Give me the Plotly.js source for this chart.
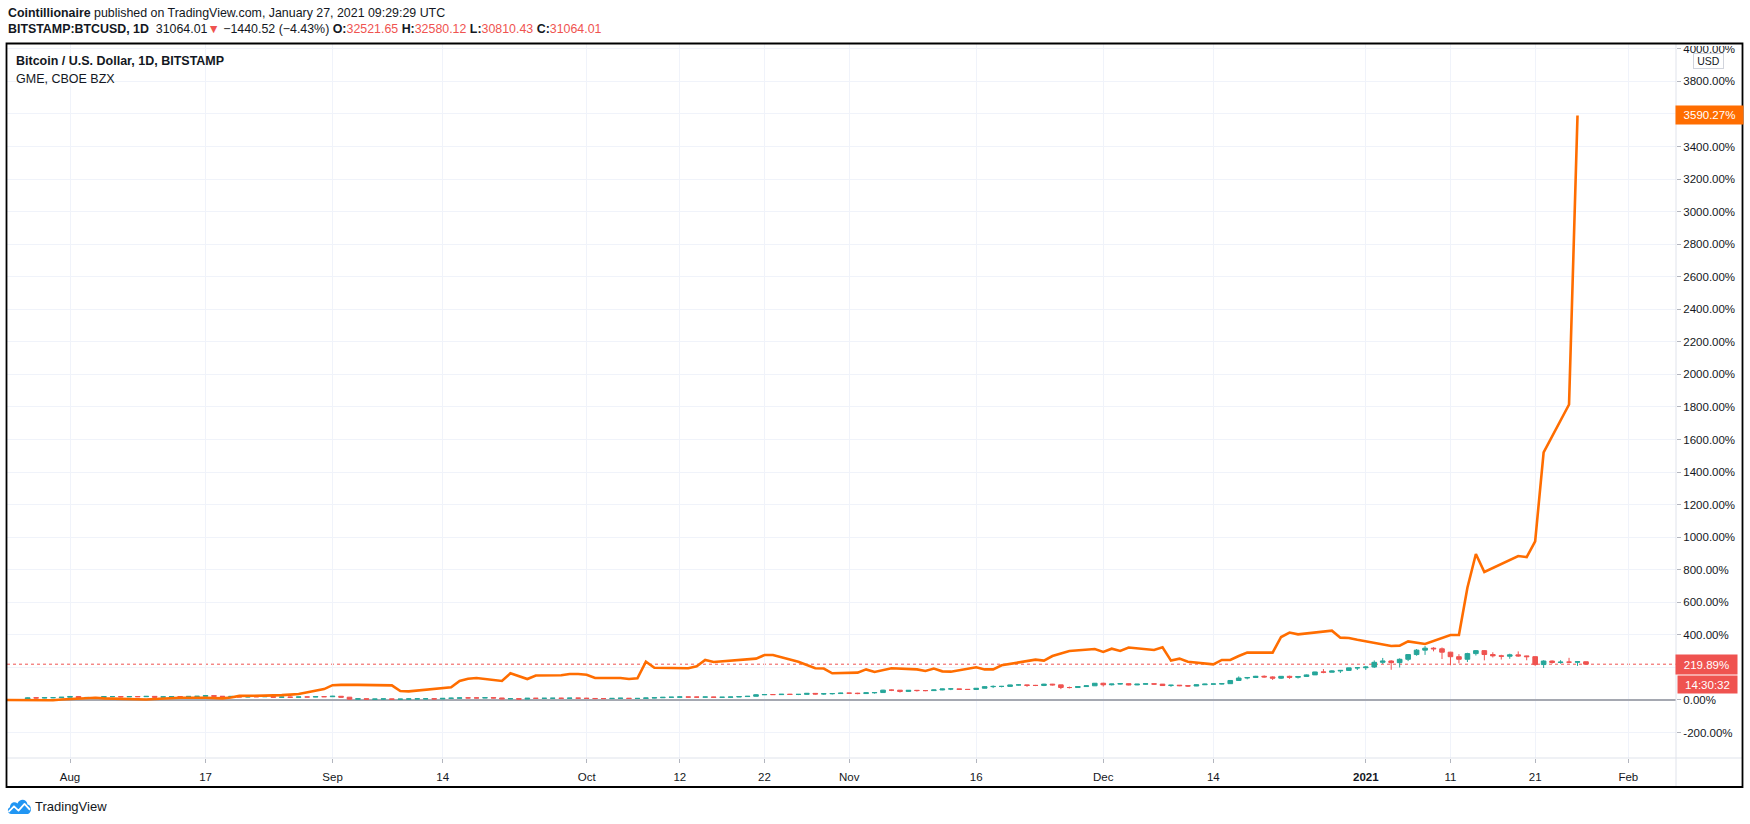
<!DOCTYPE html>
<html>
<head>
<meta charset="utf-8">
<script src="https://cdn.plot.ly/plotly-3.0.1.min.js"></script>
<style>
  html, body { margin: 0; padding: 0; background: #ffffff; }
  #chart { width: 1750px; height: 824px; }
</style>
</head>
<body>
<div id="chart"></div>
<script>
// ---------------- DATA ----------------
// BITSTAMP:BTCUSD daily candles, expressed in % change from the first bar (percentage scale)
const btcDates = [
'2020-07-25','2020-07-26','2020-07-27','2020-07-28','2020-07-29','2020-07-30','2020-07-31',
'2020-08-01','2020-08-02','2020-08-03','2020-08-04','2020-08-05','2020-08-06','2020-08-07','2020-08-08','2020-08-09','2020-08-10',
'2020-08-11','2020-08-12','2020-08-13','2020-08-14','2020-08-15','2020-08-16','2020-08-17','2020-08-18','2020-08-19','2020-08-20',
'2020-08-21','2020-08-22','2020-08-23','2020-08-24','2020-08-25','2020-08-26','2020-08-27','2020-08-28','2020-08-29','2020-08-30','2020-08-31',
'2020-09-01','2020-09-02','2020-09-03','2020-09-04','2020-09-05','2020-09-06','2020-09-07','2020-09-08','2020-09-09','2020-09-10',
'2020-09-11','2020-09-12','2020-09-13','2020-09-14','2020-09-15','2020-09-16','2020-09-17','2020-09-18','2020-09-19','2020-09-20',
'2020-09-21','2020-09-22','2020-09-23','2020-09-24','2020-09-25','2020-09-26','2020-09-27','2020-09-28','2020-09-29','2020-09-30',
'2020-10-01','2020-10-02','2020-10-03','2020-10-04','2020-10-05','2020-10-06','2020-10-07','2020-10-08','2020-10-09','2020-10-10',
'2020-10-11','2020-10-12','2020-10-13','2020-10-14','2020-10-15','2020-10-16','2020-10-17','2020-10-18','2020-10-19','2020-10-20',
'2020-10-21','2020-10-22','2020-10-23','2020-10-24','2020-10-25','2020-10-26','2020-10-27','2020-10-28','2020-10-29','2020-10-30','2020-10-31',
'2020-11-01','2020-11-02','2020-11-03','2020-11-04','2020-11-05','2020-11-06','2020-11-07','2020-11-08','2020-11-09','2020-11-10',
'2020-11-11','2020-11-12','2020-11-13','2020-11-14','2020-11-15','2020-11-16','2020-11-17','2020-11-18','2020-11-19','2020-11-20',
'2020-11-21','2020-11-22','2020-11-23','2020-11-24','2020-11-25','2020-11-26','2020-11-27','2020-11-28','2020-11-29','2020-11-30',
'2020-12-01','2020-12-02','2020-12-03','2020-12-04','2020-12-05','2020-12-06','2020-12-07','2020-12-08','2020-12-09','2020-12-10',
'2020-12-11','2020-12-12','2020-12-13','2020-12-14','2020-12-15','2020-12-16','2020-12-17','2020-12-18','2020-12-19','2020-12-20',
'2020-12-21','2020-12-22','2020-12-23','2020-12-24','2020-12-25','2020-12-26','2020-12-27','2020-12-28','2020-12-29','2020-12-30','2020-12-31',
'2021-01-01','2021-01-02','2021-01-03','2021-01-04','2021-01-05','2021-01-06','2021-01-07','2021-01-08','2021-01-09','2021-01-10',
'2021-01-11','2021-01-12','2021-01-13','2021-01-14','2021-01-15','2021-01-16','2021-01-17','2021-01-18','2021-01-19','2021-01-20',
'2021-01-21','2021-01-22','2021-01-23','2021-01-24','2021-01-25','2021-01-26','2021-01-27'
];
const btcOpen = [
-1.8,0.0,2.3,13.6,12.3,14.3,14.4,
16.9,21.5,14.0,15.6,15.2,20.9,21.1,19.5,21.1,20.3,22.3,17.4,19.2,21.3,21.2,22.1,22.6,26.7,23.2,21.1,22.1,18.6,20.3,20.0,21.2,16.9,18.1,16.7,18.7,18.2,20.6,
20.1,22.9,17.3,4.7,7.8,4.6,5.6,6.8,4.3,5.3,6.6,7.0,7.5,6.4,10.0,11.1,12.9,12.7,12.6,14.1,12.4,7.3,8.4,5.4,10.6,10.1,10.5,10.9,10.2,11.6,
11.0,9.4,8.8,8.6,9.9,11.1,9.2,9.9,12.4,13.9,16.4,17.2,18.8,17.7,17.7,18.4,16.6,17.0,18.3,21.0,22.7,32.0,33.6,33.1,35.1,34.2,34.6,40.6,36.8,38.5,39.6,
42.1,41.7,39.5,44.4,45.7,60.5,60.4,52.8,59.4,57.9,57.7,61.7,67.7,68.2,65.5,64.4,72.2,81.9,83.3,83.5,92.4,92.7,89.7,89.2,97.3,92.9,76.6,76.5,82.5,87.2,
102.9,93.4,98.0,100.3,92.6,97.2,99.5,97.5,88.7,91.0,87.9,85.8,93.6,97.4,98.4,100.2,119.9,134.8,138.2,145.7,141.8,134.0,145.4,139.3,144.4,154.2,172.3,170.6,178.4,181.7,197.4,
198.1,202.5,231.5,239.6,229.4,250.0,279.1,306.3,318.4,314.4,293.7,266.0,250.2,285.0,303.2,279.3,271.3,268.9,277.2,270.8,266.1,217.7,239.3,230.3,232.5,232.3,234.9
];
const btcHigh = [
0.9,4.0,16.0,15.5,16.7,15.7,17.3,
24.6,24.6,17.1,16.7,22.0,22.6,22.0,21.5,21.3,24.6,23.6,20.0,22.6,24.5,23.2,23.6,28.5,27.9,24.0,22.9,22.4,20.9,21.0,22.4,21.7,19.7,19.3,19.0,19.6,20.9,21.5,
25.5,23.2,17.5,8.5,8.3,6.2,7.1,7.7,6.5,9.0,7.5,8.5,8.1,11.0,13.8,14.4,14.5,13.9,15.7,14.3,12.9,9.1,8.6,11.1,11.7,11.1,11.0,13.2,11.8,11.9,
13.3,9.7,9.7,10.0,11.3,11.2,10.5,12.9,14.9,18.3,18.2,20.3,19.5,18.9,19.1,18.9,17.5,18.8,22.2,23.7,36.1,35.6,34.4,35.6,37.3,36.0,42.1,42.4,41.6,40.1,44.2,
43.7,44.2,44.6,47.8,62.6,63.7,60.5,60.2,61.6,59.0,63.7,69.4,70.6,68.6,66.6,73.4,84.0,89.6,86.4,93.2,95.7,93.5,92.6,99.4,98.8,93.1,82.4,85.8,88.4,104.3,
106.1,99.1,101.3,101.2,98.0,100.3,100.0,98.0,92.9,91.9,88.3,94.8,99.6,99.6,101.8,121.6,145.0,139.7,148.1,151.0,145.3,147.2,149.4,145.3,156.6,173.3,190.0,182.4,183.9,198.3,200.4,
206.9,242.9,258.3,244.5,256.0,281.5,313.0,331.5,324.4,322.6,296.0,281.7,290.0,306.7,306.4,293.2,277.9,284.3,298.6,272.2,267.9,244.1,242.9,244.6,259.2,237.5,235.5
];
const btcLow = [
-2.0,-1.0,1.8,9.7,10.9,10.9,12.8,
15.6,8.1,12.1,12.9,13.7,18.1,15.6,18.3,17.9,18.9,14.5,14.7,16.9,20.1,20.2,19.8,21.9,21.8,17.4,19.6,18.1,17.2,18.9,19.1,14.8,16.4,14.4,16.5,17.3,17.8,18.7,
19.7,15.3,3.6,2.4,1.5,2.3,1.5,1.0,3.1,4.1,4.8,5.8,3.6,5.2,9.3,9.7,10.9,10.8,12.1,10.8,4.7,5.8,4.0,5.0,8.1,8.9,8.1,9.4,8.8,9.5,
7.0,4.3,8.1,8.1,9.3,7.5,8.4,8.6,11.2,13.4,15.4,15.0,16.0,15.8,15.8,14.8,15.9,16.6,17.9,20.0,22.1,30.4,30.8,32.0,32.5,29.8,33.8,33.4,32.5,33.8,38.4,
40.0,35.5,37.1,38.9,45.4,54.7,45.9,51.6,51.6,54.0,56.9,59.9,60.6,61.7,61.3,63.7,71.2,73.1,77.5,82.5,89.5,80.8,85.4,85.3,89.2,66.8,70.9,75.5,79.9,86.6,
82.8,89.4,95.7,90.4,91.1,95.4,94.4,86.6,80.7,84.9,80.6,85.2,91.9,94.6,96.2,98.9,119.0,126.7,135.0,136.8,123.2,129.1,129.9,131.8,141.4,153.6,164.3,170.6,165.7,179.9,184.1,
184.5,196.6,221.3,185.6,199.5,238.8,271.7,277.0,298.8,251.7,213.3,225.3,233.1,273.0,243.4,261.4,248.6,253.1,266.0,243.9,209.7,196.6,223.2,223.0,229.0,209.6,217.3
];
const btcClose = [
0.0,2.3,13.6,12.3,14.3,14.4,16.9,
21.5,14.0,15.6,15.2,20.9,21.1,19.5,21.1,20.3,22.3,17.4,19.2,21.3,21.2,22.1,22.6,26.7,23.2,21.1,22.1,18.6,20.3,20.0,21.2,16.9,18.1,16.7,18.7,18.2,20.6,20.1,
22.9,17.3,4.7,7.8,4.6,5.6,6.8,4.3,5.3,6.6,7.0,7.5,6.4,10.0,11.1,12.9,12.7,12.6,14.1,12.4,7.3,8.4,5.4,10.6,10.1,10.5,10.9,10.2,11.6,11.0,
9.4,8.8,8.6,9.9,11.1,9.2,9.9,12.4,13.9,16.4,17.2,18.8,17.7,17.7,18.4,16.6,17.0,18.3,21.0,22.7,32.0,33.6,33.1,35.1,34.2,34.6,40.6,36.8,38.5,39.6,42.1,
41.7,39.5,44.4,45.7,60.5,60.4,52.8,59.4,57.9,57.7,61.7,67.7,68.2,65.5,64.4,72.2,81.9,83.3,83.5,92.4,92.7,89.7,89.2,97.3,92.9,76.6,76.5,82.5,87.2,102.9,
93.4,98.0,100.3,92.6,97.2,99.5,97.5,88.7,91.0,87.9,85.8,93.6,97.4,98.4,100.2,119.9,134.8,138.2,145.7,141.8,134.0,145.4,139.3,144.4,154.2,172.3,170.6,178.4,181.7,197.4,198.1,
202.5,231.5,239.6,229.4,250.0,279.1,306.3,318.4,314.4,293.7,266.0,250.2,285.0,303.2,279.3,271.3,268.9,277.2,270.8,266.1,217.7,239.3,230.3,232.5,232.3,234.7,219.89
];

// GME, CBOE BZX — % change from the comparison start, trading days only
const gmeDates = [
'2020-07-24','2020-07-27','2020-07-28','2020-07-29','2020-07-30','2020-07-31',
'2020-08-03','2020-08-04','2020-08-05','2020-08-06','2020-08-07','2020-08-10','2020-08-11','2020-08-12','2020-08-13','2020-08-14',
'2020-08-17','2020-08-18','2020-08-19','2020-08-20','2020-08-21','2020-08-24','2020-08-25','2020-08-26','2020-08-27','2020-08-28','2020-08-31',
'2020-09-01','2020-09-02','2020-09-03','2020-09-04','2020-09-08','2020-09-09','2020-09-10','2020-09-11','2020-09-14','2020-09-15',
'2020-09-16','2020-09-17','2020-09-18','2020-09-21','2020-09-22','2020-09-23','2020-09-24','2020-09-25','2020-09-28','2020-09-29','2020-09-30',
'2020-10-01','2020-10-02','2020-10-05','2020-10-06','2020-10-07','2020-10-08','2020-10-09','2020-10-12','2020-10-13','2020-10-14','2020-10-15',
'2020-10-16','2020-10-19','2020-10-20','2020-10-21','2020-10-22','2020-10-23','2020-10-26','2020-10-27','2020-10-28','2020-10-29','2020-10-30',
'2020-11-02','2020-11-03','2020-11-04','2020-11-05','2020-11-06','2020-11-09','2020-11-10','2020-11-11','2020-11-12','2020-11-13',
'2020-11-16','2020-11-17','2020-11-18','2020-11-19','2020-11-20','2020-11-23','2020-11-24','2020-11-25','2020-11-27','2020-11-30',
'2020-12-01','2020-12-02','2020-12-03','2020-12-04','2020-12-07','2020-12-08','2020-12-09','2020-12-10','2020-12-11','2020-12-14',
'2020-12-15','2020-12-16','2020-12-17','2020-12-18','2020-12-21','2020-12-22','2020-12-23','2020-12-24','2020-12-28','2020-12-29','2020-12-30','2020-12-31',
'2021-01-04','2021-01-05','2021-01-06','2021-01-07','2021-01-08','2021-01-11','2021-01-12','2021-01-13','2021-01-14','2021-01-15',
'2021-01-19','2021-01-20','2021-01-21','2021-01-22','2021-01-25','2021-01-26'
];
const gmePct = [
0,1,0,0,-2,3,
8,14,10,8,5,3,6,9,12,14,
14,13,10,15,25,27,27,30,33,37,67,
91,93,95,93,90,55,53,58,72,78,
117,130,135,117,164,145,129,150,152,160,160,
155,135,135,129,133,235,198,197,195,207,246,
233,248,250,254,276,276,235,215,195,193,164,
168,188,172,185,195,188,178,193,176,174,
201,188,188,213,222,248,242,270,301,313,
295,315,301,322,307,324,242,254,235,219,
246,246,270,291,291,387,414,403,426,383,381,370,
332,334,360,351,344,399,399,690,897,786,
884,878,975,1521,1815,3590.27
];

// Axis ticks
const xTickDates  = ['2020-08-01','2020-08-17','2020-09-01','2020-09-14','2020-10-01','2020-10-12','2020-10-22','2020-11-01','2020-11-16','2020-12-01','2020-12-14','2021-01-01','2021-01-11','2021-01-21','2021-02-01'];
const xTickLabels = ['Aug','17','Sep','14','Oct','12','22','Nov','16','Dec','14','<b>2021</b>','11','21','Feb'];
const yTickVals   = [-200,0,200,400,600,800,1000,1200,1400,1600,1800,2000,2200,2400,2600,2800,3000,3200,3400,3600,3800,4000];
const yTickLabels = ['-200.00%','0.00%','200.00%','400.00%','600.00%','800.00%','1000.00%','1200.00%','1400.00%','1600.00%','1800.00%','2000.00%','2200.00%','2400.00%','2600.00%','2800.00%','3000.00%','3200.00%','3400.00%','3600.00%','3800.00%','4000.00%'];

// Header texts
const authorLine  = 'Cointillionaire';
const publishLine = 'published on TradingView.com, January 27, 2021 09:29:29 UTC';
const symbolLine  = 'BITSTAMP:BTCUSD, 1D';
const lastPrice   = '31064.01';
const changeText  = '\u22121440.52 (\u22124.43%)';
const ohlcLabels  = ['O:','H:','L:','C:'];
const ohlcValues  = ['32521.65','32580.12','30810.43','31064.01'];
const seriesTitle = 'Bitcoin / U.S. Dollar, 1D, BITSTAMP';
const compareTitle = 'GME, CBOE BZX';
const countdown   = '14:30:32';

// ---------------- LAYOUT HELPERS ----------------
const W = 1750, H = 824, ML = 7, MR = 74, MT = 44, MB = 66;
const PW = W - ML - MR, PH = H - MT - MB;
const px = x => (x - ML) / PW;
const py = y => (H - MB - y) / PH;

const FONT = '"Liberation Sans", Arial, sans-serif';
const TXT = '#131722';
const UP = '#26a69a', DOWN = '#ef5350', ORANGE = '#ff6d00';

const lastBtc = btcClose[btcClose.length - 1];
const lastGme = gmePct[gmePct.length - 1];

const traces = [
  {
    type: 'candlestick',
    x: btcDates, open: btcOpen, high: btcHigh, low: btcLow, close: btcClose,
    increasing: { line: { color: UP, width: 1 }, fillcolor: UP },
    decreasing: { line: { color: DOWN, width: 1 }, fillcolor: DOWN },
    whiskerwidth: 0,
    hoverinfo: 'skip'
  },
  {
    type: 'scatter', mode: 'lines',
    x: gmeDates, y: gmePct,
    line: { color: ORANGE, width: 2.6 },
    hoverinfo: 'skip'
  }
];

let ohlcHtml = '';
for (let i = 0; i < ohlcLabels.length; i++) {
  ohlcHtml += ' <b>' + ohlcLabels[i] + '</b><span style="color:' + DOWN + '">' + ohlcValues[i] + '</span>';
}

const annotations = [
  { text: '<b>' + authorLine + '</b> ' + publishLine, x: px(6), y: py(13.5), size: 12.4 },
  { text: '<b>' + symbolLine + '</b>  ' + lastPrice + '<span style="color:' + DOWN + '">\u25BC</span> ' + changeText + ohlcHtml, x: px(6), y: py(28.5), size: 12.4 },
  { text: '<b>' + seriesTitle + '</b>', x: px(14), y: py(61), size: 12.5 },
  { text: compareTitle, x: px(14), y: py(78.5), size: 12.5 },
  { text: 'TradingView', x: px(33), y: py(806), size: 13 }
].map(a => ({
  xref: 'paper', yref: 'paper', x: a.x, y: a.y, text: a.text,
  xanchor: 'left', yanchor: 'middle', showarrow: false, align: 'left',
  font: { family: FONT, size: a.size, color: TXT }
}));

// price-scale labels
annotations.push(
  { xref: 'paper', yref: 'y', x: px(1675), y: lastGme, xanchor: 'left', yanchor: 'middle',
    text: lastGme.toFixed(2) + '%', showarrow: false, width: 67, height: 18, align: 'center',
    bgcolor: ORANGE, borderpad: 0, font: { family: FONT, size: 11.5, color: '#ffffff' } },
  { xref: 'paper', yref: 'y', x: px(1675), y: lastBtc, xanchor: 'left', yanchor: 'middle',
    text: lastBtc.toFixed(2) + '%', showarrow: false, width: 61, height: 19, align: 'center',
    bgcolor: DOWN, borderpad: 0, font: { family: FONT, size: 11.5, color: '#ffffff' } },
  { xref: 'paper', yref: 'paper', x: px(1677), y: py(684.5), xanchor: 'left', yanchor: 'middle',
    text: countdown, showarrow: false, width: 59, height: 17, align: 'center',
    bgcolor: DOWN, borderpad: 0, font: { family: FONT, size: 11.5, color: '#ffffff' } },
  { xref: 'paper', yref: 'paper', x: px(1693), y: py(60.5), xanchor: 'left', yanchor: 'middle',
    text: 'USD', showarrow: false, width: 29, height: 14, align: 'center',
    bgcolor: '#ffffff', bordercolor: '#d1d4dc', borderwidth: 1, borderpad: 0,
    font: { family: FONT, size: 10.5, color: TXT } }
);

const shapes = [
  // last-price dotted line
  { type: 'line', xref: 'paper', yref: 'y', x0: 0, x1: 1, y0: lastBtc, y1: lastBtc,
    line: { color: DOWN, width: 1, dash: 'dot' }, layer: 'below' },
  // white strip: price-scale labels are clipped at the top edge
  { type: 'rect', xref: 'paper', yref: 'paper', x0: px(1677), x1: px(1742), y0: py(46), y1: py(36),
    line: { width: 0 }, fillcolor: '#ffffff', layer: 'above' },
  // price-scale separator
  { type: 'line', xref: 'paper', yref: 'paper', x0: 1, x1: 1, y0: py(787), y1: py(43.5),
    line: { color: '#e0e3eb', width: 1 }, layer: 'above' },
  // time-scale separator
  { type: 'line', xref: 'paper', yref: 'paper', x0: px(6.5), x1: px(1742.5), y0: 0, y1: 0,
    line: { color: '#e0e3eb', width: 1.2 }, layer: 'above' },
  // outer frame
  { type: 'rect', xref: 'paper', yref: 'paper', x0: px(6.5), x1: px(1742.5), y0: py(787), y1: py(43.5),
    line: { color: '#000000', width: 1.8 }, fillcolor: 'rgba(0,0,0,0)', layer: 'above' }
];

const logoSvg = "<svg xmlns='http://www.w3.org/2000/svg' width='52' height='32' viewBox='0 0 26 16'>" +
  "<path d='M5.5 16 C1.5 16 0.5 11 4 9.6 C4 5.5 8.5 3.6 11.5 6 C13.5 1 21 1.5 21.5 7 C25.5 7.5 26.5 14 22 16 Z' fill='#2196f3'/>" +
  "<polyline points='2.5,14 8,8.8 12.5,12.8 18.5,6.5 24,12' fill='none' stroke='#ffffff' stroke-width='1.8' stroke-linejoin='round'/></svg>";

const layout = {
  width: W, height: H,
  margin: { l: ML, r: MR, t: MT, b: MB, pad: 0 },
  paper_bgcolor: '#ffffff', plot_bgcolor: '#ffffff',
  showlegend: false, hovermode: false, dragmode: false,
  boxgap: 0.22,
  font: { family: FONT, color: TXT },
  xaxis: {
    type: 'date',
    range: ['2020-07-24 13:26', '2021-02-06 15:07'],
    tickmode: 'array', tickvals: xTickDates, ticktext: xTickLabels,
    showgrid: true, gridcolor: '#f0f3fa', gridwidth: 1,
    ticks: 'outside', ticklen: 4, tickcolor: '#b2b5be',
    ticklabelstandoff: 4,
    tickfont: { family: FONT, size: 11.5, color: TXT },
    showline: false, zeroline: false,
    rangeslider: { visible: false }, fixedrange: true
  },
  yaxis: {
    side: 'right',
    range: [-356.3, 4029.4],
    tickmode: 'array', tickvals: yTickVals, ticktext: yTickLabels,
    showgrid: true, gridcolor: '#f0f3fa', gridwidth: 1,
    zeroline: true, zerolinecolor: '#a5a8b1', zerolinewidth: 1.5,
    ticks: 'outside', ticklen: 4, tickcolor: '#b2b5be',
    tickfont: { family: FONT, size: 11.5, color: TXT },
    showline: false, fixedrange: true
  },
  shapes: shapes,
  annotations: annotations,
  images: [{
    source: 'data:image/svg+xml;utf8,' + encodeURIComponent(logoSvg),
    xref: 'paper', yref: 'paper', x: px(6), y: py(797), sizex: 26 / PW, sizey: 17 / PH,
    xanchor: 'left', yanchor: 'top', sizing: 'stretch', layer: 'above'
  }]
};

Plotly.newPlot('chart', traces, layout, { displayModeBar: false, staticPlot: true });
</script>
</body>
</html>
